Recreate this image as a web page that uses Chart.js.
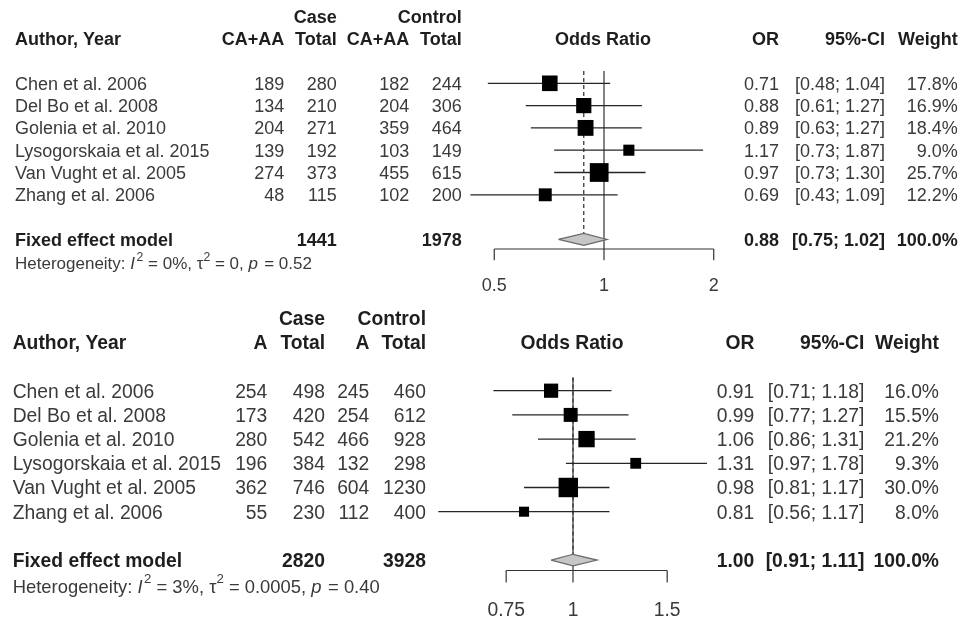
<!DOCTYPE html>
<html>
<head>
<meta charset="utf-8">
<script src="https://cdn.jsdelivr.net/npm/chart.js@4.4.1/dist/chart.umd.min.js"></script>
<style>
  html, body { margin: 0; padding: 0; background: #fff; }
  #wrap { position: relative; width: 964px; height: 617px; overflow: hidden; }
  canvas { position: absolute; left: 0; }
</style>
</head>
<body>
<div id="wrap">
  <canvas id="topChart" width="964" height="300" style="top:0"></canvas>
  <canvas id="bottomChart" width="964" height="317" style="top:300px"></canvas>
</div>
<script>
// data
const studies = ['Chen et al. 2006', 'Del Bo et al. 2008', 'Golenia et al. 2010',
                 'Lysogorskaia et al. 2015', 'Van Vught et al. 2005', 'Zhang et al. 2006'];

// top panel (CA+AA)
const caseEvents1 = [189, 134, 204, 139, 274, 48];
const caseTotal1 = [280, 210, 271, 192, 373, 115];
const ctrlEvents1 = [182, 204, 359, 103, 455, 102];
const ctrlTotal1 = [244, 306, 464, 149, 615, 200];
const or1 = [0.71, 0.88, 0.89, 1.17, 0.97, 0.69];
const lower1 = [0.48, 0.61, 0.63, 0.73, 0.73, 0.43];
const upper1 = [1.04, 1.27, 1.27, 1.87, 1.30, 1.09];
const weight1 = [17.8, 16.9, 18.4, 9.0, 25.7, 12.2];
const pooled1 = [0.88, 0.75, 1.02];      // OR, lower, upper
const totals1 = [1441, 1978];            // case, control
const het1 = ['0%', '0', '0.52'];        // I2, tau2, p
const ticks1 = [0.5, 1, 2];
const tickLabels1 = ['0.5', '1', '2'];

// bottom panel (A)
const caseEvents2 = [254, 173, 280, 196, 362, 55];
const caseTotal2 = [498, 420, 542, 384, 746, 230];
const ctrlEvents2 = [245, 254, 466, 132, 604, 112];
const ctrlTotal2 = [460, 612, 928, 298, 1230, 400];
const or2 = [0.91, 0.99, 1.06, 1.31, 0.98, 0.81];
const lower2 = [0.71, 0.77, 0.86, 0.97, 0.81, 0.56];
const upper2 = [1.18, 1.27, 1.31, 1.78, 1.17, 1.17];
const weight2 = [16.0, 15.5, 21.2, 9.3, 30.0, 8.0];
const pooled2 = [1.00, 0.91, 1.11];
const totals2 = [2820, 3928];
const het2 = ['3%', '0.0005', '0.40'];
const ticks2 = [0.75, 1, 1.5];
const tickLabels2 = ['0.75', '1', '1.5'];

// layout per panel (pixels)
const layout1 = {
  height: 300, rowTop: 83.3, rowStep: 22.3, onePx: 604, pxPerLn: 158.3,
  font: 18, hetFont: 17, square: 3.7, diamondH: 0.27,
  cols: { author: 15, c1: 284.3, c2: 336.7, c3: 409.3, c4: 461.7, or: 779, ci: 885, w: 957.7, odds: 603 }
};
const layout2 = {
  height: 317, rowTop: 90.7, rowStep: 24.2, onePx: 573, pxPerLn: 232.3,
  font: 19.3, hetFont: 18.4, square: 3.55, diamondH: 0.24,
  cols: { author: 12.7, c1: 267.3, c2: 325, c3: 369.3, c4: 426, or: 754.3, ci: 864.3, w: 939, odds: 572 }
};

const REG = '#3a3a3a';
const BOLD = '#1e1e1e';
const FAMILY = '"Liberation Sans", Arial, sans-serif';
const POOLED_ROW = 7, HET_ROW = 8.07, AXIS_ROW = 7.43, TICK_LEN = 0.5, TICKLABEL_ROW = 9.03, LINE_TOP = -0.55;

function lineSet(points, color, width, dash) {
  return {
    data: points, showLine: true, pointRadius: 0, borderColor: color,
    borderWidth: width, borderDash: dash || [], fill: false, tension: 0
  };
}

const textPlugin = {
  id: 'forestText',
  afterDraw(chart, args, opts) {
    const p = opts.panel;
    const L = p.layout, c = L.cols;
    const ctx = chart.ctx;
    const xs = chart.scales.x, ys = chart.scales.y;

    function txt(s, x, row, align, bold, size) {
      size = size || L.font;
      ctx.font = (bold ? 'bold ' : '') + size + 'px ' + FAMILY;
      ctx.fillStyle = bold ? BOLD : REG;
      ctx.textAlign = align;
      ctx.textBaseline = 'alphabetic';
      ctx.fillText(s, x, ys.getPixelForValue(row) + 0.36 * size);
    }

    ctx.save();
    // header
    txt('Case', c.c2, -3, 'right', true);
    txt('Control', c.c4, -3, 'right', true);
    txt('Author, Year', c.author, -2, 'left', true);
    txt(p.eventLabel, c.c1, -2, 'right', true);
    txt('Total', c.c2, -2, 'right', true);
    txt(p.eventLabel, c.c3, -2, 'right', true);
    txt('Total', c.c4, -2, 'right', true);
    txt('Odds Ratio', c.odds, -2, 'center', true);
    txt('OR', c.or, -2, 'right', true);
    txt('95%-CI', c.ci, -2, 'right', true);
    txt('Weight', c.w, -2, 'right', true);

    // studies
    studies.forEach((s, i) => {
      txt(s, c.author, i, 'left');
      txt(String(p.caseEvents[i]), c.c1, i, 'right');
      txt(String(p.caseTotal[i]), c.c2, i, 'right');
      txt(String(p.ctrlEvents[i]), c.c3, i, 'right');
      txt(String(p.ctrlTotal[i]), c.c4, i, 'right');
      txt(p.or[i].toFixed(2), c.or, i, 'right');
      txt('[' + p.lower[i].toFixed(2) + '; ' + p.upper[i].toFixed(2) + ']', c.ci, i, 'right');
      txt(p.weight[i].toFixed(1) + '%', c.w, i, 'right');
    });

    // pooled row
    txt('Fixed effect model', c.author, POOLED_ROW, 'left', true);
    txt(String(p.totals[0]), c.c2, POOLED_ROW, 'right', true);
    txt(String(p.totals[1]), c.c4, POOLED_ROW, 'right', true);
    txt(p.pooled[0].toFixed(2), c.or, POOLED_ROW, 'right', true);
    txt('[' + p.pooled[1].toFixed(2) + '; ' + p.pooled[2].toFixed(2) + ']', c.ci, POOLED_ROW, 'right', true);
    const wSum = p.weight.reduce((a, b) => a + b, 0);
    txt(wSum.toFixed(1) + '%', c.w, POOLED_ROW, 'right', true);

    // heterogeneity line with italics and superscripts
    const fs = L.hetFont;
    const base = ys.getPixelForValue(HET_ROW) + 0.36 * fs;
    const parts = [
      { t: 'Heterogeneity: ' }, { t: 'I', it: true }, { t: '2', sup: true },
      { t: ' = ' + p.het[0] + ', ' }, { t: '\u03c4' }, { t: '2', sup: true },
      { t: ' = ' + p.het[1] + ', ' }, { t: 'p', it: true }, { t: ' = ' + p.het[2] }
    ];
    let hx = c.author;
    ctx.textAlign = 'left';
    ctx.fillStyle = REG;
    parts.forEach(pt => {
      const size = pt.sup ? fs * 0.72 : fs;
      ctx.font = (pt.it ? 'italic ' : '') + size + 'px ' + FAMILY;
      ctx.fillText(pt.t, hx, pt.sup ? base - fs * 0.5 : base);
      hx += ctx.measureText(pt.t).width + (pt.it ? 1.5 : 0);
    });

    // axis tick labels
    p.ticks.forEach((t, i) => {
      txt(p.tickLabels[i], xs.getPixelForValue(t), TICKLABEL_ROW, 'center');
    });
    ctx.restore();
  }
};

function makePanel(canvasId, p) {
  const L = p.layout;

  const squares = {
    data: p.or.map((v, i) => ({ x: v, y: i })),
    pointStyle: 'rect',
    pointRadius: p.weight.map(w => L.square * Math.sqrt(w) / Math.SQRT2),
    backgroundColor: '#000',
    borderWidth: 0,
    showLine: false
  };
  const diamond = {
    data: [
      { x: p.pooled[1], y: POOLED_ROW },
      { x: p.pooled[0], y: POOLED_ROW - L.diamondH },
      { x: p.pooled[2], y: POOLED_ROW },
      { x: p.pooled[0], y: POOLED_ROW + L.diamondH },
      { x: p.pooled[1], y: POOLED_ROW }
    ],
    showLine: true, pointRadius: 0, tension: 0,
    borderColor: '#6a6a6a', borderWidth: 1.2,
    backgroundColor: '#c6c6c6', fill: 'shape'
  };
  const whiskers = p.or.map((v, i) =>
    lineSet([{ x: p.lower[i], y: i }, { x: p.upper[i], y: i }], '#262626', 1.3));
  const dashed = lineSet([{ x: p.pooled[0], y: LINE_TOP }, { x: p.pooled[0], y: POOLED_ROW - L.diamondH }], '#3a3a3a', 1.3, [4, 3]);
  const refLine = lineSet([{ x: 1, y: LINE_TOP }, { x: 1, y: AXIS_ROW }], '#333', 1.2);
  const axisLine = lineSet([{ x: p.ticks[0], y: AXIS_ROW }, { x: p.ticks[p.ticks.length - 1], y: AXIS_ROW }], '#333', 1.2);
  const tickMarks = p.ticks.map(t => lineSet([{ x: t, y: AXIS_ROW }, { x: t, y: AXIS_ROW + TICK_LEN }], '#333', 1.2));

  // index 0 ends up on top
  const datasets = [squares, diamond, ...whiskers, dashed, refLine, axisLine, ...tickMarks];

  new Chart(document.getElementById(canvasId), {
    type: 'scatter',
    data: { datasets },
    options: {
      responsive: false,
      animation: false,
      events: [],
      layout: { padding: 0, autoPadding: false },
      plugins: {
        legend: { display: false },
        tooltip: { enabled: false },
        forestText: { panel: p }
      },
      scales: {
        x: {
          type: 'logarithmic', display: false, bounds: 'data',
          min: Math.exp(-L.onePx / L.pxPerLn),
          max: Math.exp((964 - L.onePx) / L.pxPerLn)
        },
        y: {
          type: 'linear', display: false, reverse: true,
          min: -L.rowTop / L.rowStep,
          max: (L.height - L.rowTop) / L.rowStep
        }
      }
    },
    plugins: [textPlugin]
  });
}

makePanel('topChart', {
  layout: layout1, eventLabel: 'CA+AA',
  caseEvents: caseEvents1, caseTotal: caseTotal1, ctrlEvents: ctrlEvents1, ctrlTotal: ctrlTotal1,
  or: or1, lower: lower1, upper: upper1, weight: weight1,
  pooled: pooled1, totals: totals1, het: het1, ticks: ticks1, tickLabels: tickLabels1
});

makePanel('bottomChart', {
  layout: layout2, eventLabel: 'A',
  caseEvents: caseEvents2, caseTotal: caseTotal2, ctrlEvents: ctrlEvents2, ctrlTotal: ctrlTotal2,
  or: or2, lower: lower2, upper: upper2, weight: weight2,
  pooled: pooled2, totals: totals2, het: het2, ticks: ticks2, tickLabels: tickLabels2
});
</script>
</body>
</html>
